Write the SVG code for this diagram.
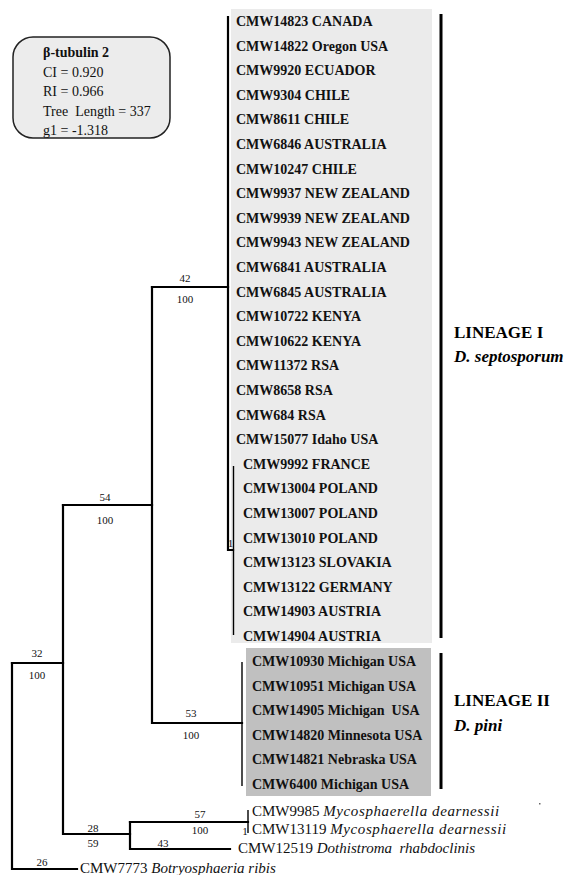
<svg xmlns="http://www.w3.org/2000/svg" width="574" height="875" viewBox="0 0 574 875">
<style>
.lb{font-family:"Liberation Serif","Times New Roman",serif;font-size:14px;font-weight:bold;fill:#111}
.og{font-family:"Liberation Serif","Times New Roman",serif;font-size:15px;fill:#111}
.num{font-family:"Liberation Serif","Times New Roman",serif;font-size:11px;fill:#111;text-anchor:middle}
.info{font-family:"Liberation Serif","Times New Roman",serif;font-size:14px;fill:#111}
.lin{font-family:"Liberation Serif","Times New Roman",serif;font-size:17px;font-weight:bold;fill:#000}
.br{stroke:#000;stroke-width:2.2;fill:none;stroke-linecap:square}
.thin{stroke:#000;stroke-width:1.4;fill:none}
.bracket{stroke:#000;stroke-width:3;fill:none}
</style>
<rect width="574" height="875" fill="#fff"/>

<g id="info-box">
<rect x="13" y="37" width="157" height="101" rx="20" ry="20" fill="#ececec" stroke="#222" stroke-width="1.5"/>
<text class="info" x="43" y="57" font-weight="bold">β-tubulin 2</text>
<text class="info" x="43" y="77">CI = 0.920</text>
<text class="info" x="43" y="96">RI = 0.966</text>
<text class="info" x="43" y="116" xml:space="preserve">Tree  Length = 337</text>
<text class="info" x="43" y="135">g1 = -1.318</text>
</g>

<g id="lineage1-box">
<rect x="231" y="9" width="201" height="634" fill="#ebebeb"/>
</g>
<g id="lineage2-box">
<rect x="246" y="648" width="185" height="148" fill="#c0c0c0"/>
</g>

<g id="connectors">
<path class="br" d="M12 663 V869 H77"/>
<path class="br" d="M12 663 H63"/>
<path class="br" d="M63 505 V834 H130"/>
<path class="br" d="M63 505 H152"/>
<path class="br" d="M152 287 V723 H242"/>
<path class="br" d="M152 287 H228"/>
<path class="br" d="M228 17 V550 H233"/>
<path class="thin" d="M233.5 466 V635"/>
<path class="thin" d="M242 662 V786"/>
<path class="br" d="M130 822 V849 H230"/>
<path class="br" d="M130 822 H248"/>
<path class="thin" d="M248 810 V833"/>
<path class="bracket" d="M441 14 V638"/>
<path class="bracket" d="M441 653 V789"/>
</g>

<g id="support-labels">
<text class="num" x="185" y="282">42</text>
<text class="num" x="185" y="303">100</text>
<text class="num" x="105" y="501">54</text>
<text class="num" x="105" y="524">100</text>
<text class="num" x="37" y="657">32</text>
<text class="num" x="37" y="679">100</text>
<text class="num" x="191" y="717">53</text>
<text class="num" x="191" y="739">100</text>
<text class="num" x="200" y="818">57</text>
<text class="num" x="200" y="834">100</text>
<text class="num" x="93" y="832">28</text>
<text class="num" x="93" y="847">59</text>
<text class="num" x="163" y="847">43</text>
<text class="num" x="42" y="866">26</text>
<text class="num" x="230.5" y="547">1</text>
<text class="num" x="245" y="835">1</text>
</g>

<g id="lineage1-taxa">
<text class="lb" x="236" y="26">CMW14823 CANADA</text>
<text class="lb" x="236" y="50.6">CMW14822 Oregon USA</text>
<text class="lb" x="236" y="75.2">CMW9920 ECUADOR</text>
<text class="lb" x="236" y="99.8">CMW9304 CHILE</text>
<text class="lb" x="236" y="124.4">CMW8611 CHILE</text>
<text class="lb" x="236" y="149">CMW6846 AUSTRALIA</text>
<text class="lb" x="236" y="173.6">CMW10247 CHILE</text>
<text class="lb" x="236" y="198.2">CMW9937 NEW ZEALAND</text>
<text class="lb" x="236" y="222.8">CMW9939 NEW ZEALAND</text>
<text class="lb" x="236" y="247.4">CMW9943 NEW ZEALAND</text>
<text class="lb" x="236" y="272">CMW6841 AUSTRALIA</text>
<text class="lb" x="236" y="296.6">CMW6845 AUSTRALIA</text>
<text class="lb" x="236" y="321.2">CMW10722 KENYA</text>
<text class="lb" x="236" y="345.8">CMW10622 KENYA</text>
<text class="lb" x="236" y="370.4">CMW11372 RSA</text>
<text class="lb" x="236" y="395">CMW8658 RSA</text>
<text class="lb" x="236" y="419.6">CMW684 RSA</text>
<text class="lb" x="236" y="444.2">CMW15077 Idaho USA</text>
<text class="lb" x="243" y="468.8">CMW9992 FRANCE</text>
<text class="lb" x="243" y="493.4">CMW13004 POLAND</text>
<text class="lb" x="243" y="518">CMW13007 POLAND</text>
<text class="lb" x="243" y="542.6">CMW13010 POLAND</text>
<text class="lb" x="243" y="567.2">CMW13123 SLOVAKIA</text>
<text class="lb" x="243" y="591.8">CMW13122 GERMANY</text>
<text class="lb" x="243" y="616.4">CMW14903 AUSTRIA</text>
<text class="lb" x="243" y="641">CMW14904 AUSTRIA</text>
</g>

<g id="lineage2-taxa">
<text class="lb" x="252" y="666">CMW10930 Michigan USA</text>
<text class="lb" x="252" y="690.6">CMW10951 Michigan USA</text>
<text class="lb" x="252" y="715.2" xml:space="preserve">CMW14905 Michigan  USA</text>
<text class="lb" x="252" y="739.8">CMW14820 Minnesota USA</text>
<text class="lb" x="252" y="764.4">CMW14821 Nebraska USA</text>
<text class="lb" x="252" y="789">CMW6400 Michigan USA</text>
</g>

<g id="outgroup-taxa">
<text class="og" x="252" y="816">CMW9985 <tspan font-style="italic" letter-spacing="0.6">Mycosphaerella dearnessii</tspan></text>
<text class="og" x="252" y="834">CMW13119 <tspan font-style="italic" letter-spacing="0.6">Mycosphaerella dearnessii</tspan></text>
<text class="og" x="238" y="853" xml:space="preserve">CMW12519 <tspan font-style="italic">Dothistroma  rhabdoclinis</tspan></text>
<text class="og" x="80" y="873">CMW7773 <tspan font-style="italic">Botryosphaeria ribis</tspan></text>
</g>

<g id="lineage-labels">
<text class="lin" x="454" y="338">LINEAGE I</text>
<text class="lin" x="454" y="362" font-style="italic">D. septosporum</text>
<text class="lin" x="454" y="706">LINEAGE II</text>
<text class="lin" x="454" y="731" font-style="italic">D. pini</text>
</g>
<rect x="539" y="803" width="1.5" height="1.5" fill="#666"/>
</svg>
